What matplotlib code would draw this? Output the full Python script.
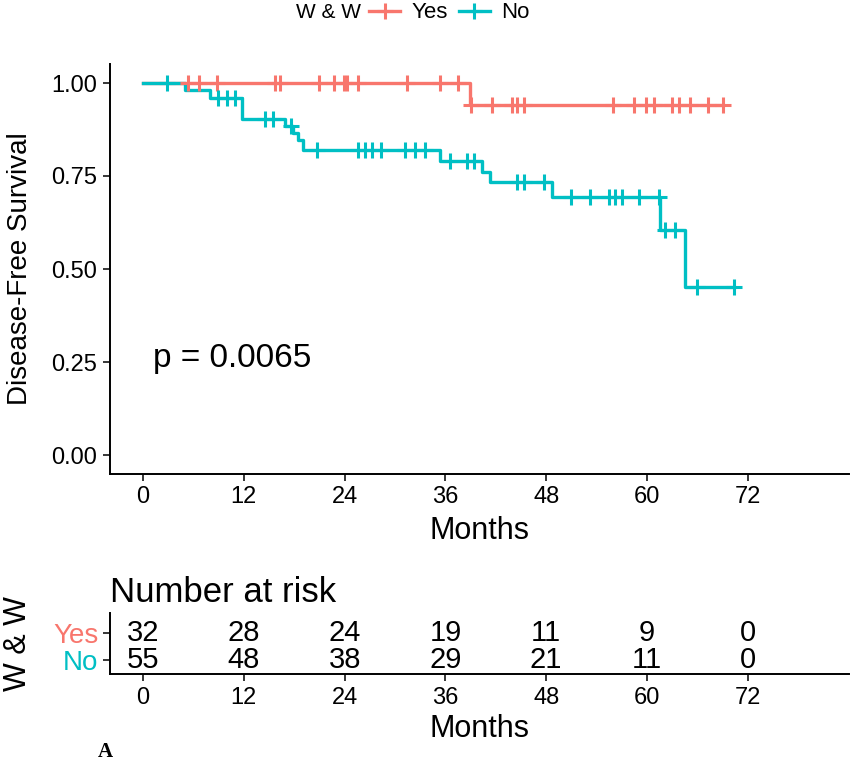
import numpy as np
import matplotlib
matplotlib.use("Agg")
import matplotlib.pyplot as plt
from matplotlib.lines import Line2D

plt.rcParams['font.family'] = ['Liberation Sans', 'DejaVu Sans']

# ---------------- data ----------------
RED = "#F8766D"
TEAL = "#00BFC4"

yes_event_t = [38.9]
yes_event_s = [0.941]
yes_end = 69.1
yes_censor = [5.4, 6.6, 8.8, 15.7, 16.3, 20.9, 22.7, 23.9, 24.3, 25.6, 31.4,
              35.4, 37.5, 39.0, 41.5, 43.9, 44.5, 45.3, 55.9, 58.4, 59.9, 60.8,
              63.0, 63.8, 65.1, 67.3, 69.1]

no_event_t = [5.0, 8.0, 11.75, 16.9, 17.8, 18.4, 19.1, 35.4, 40.3, 41.3, 48.7, 61.5, 64.5]
no_event_s = [0.981, 0.959, 0.902, 0.884, 0.865, 0.846, 0.820, 0.789, 0.762, 0.733,
              0.693, 0.605, 0.451]
no_end = 70.4
no_censor = [2.8, 8.9, 10.0, 10.95, 14.5, 15.5, 17.6, 20.7, 25.6, 26.4, 27.3, 28.3,
             31.2, 32.4, 33.6, 36.5, 38.6, 39.4, 44.5, 45.3, 47.7, 51.0, 53.2, 55.5,
             56.2, 57.0, 59.0, 61.4, 62.1, 63.3, 65.9, 70.4]

risk_times = [0, 12, 24, 36, 48, 60, 72]
risk_yes = [32, 28, 24, 19, 11, 9, 0]
risk_no = [55, 48, 38, 29, 21, 11, 0]
groups = ["Yes", "No"]
pval_text = "p = 0.0065"
x_ticks = [0, 12, 24, 36, 48, 60, 72]
y_ticks = [0.00, 0.25, 0.50, 0.75, 1.00]


def curve(event_t, event_s, end):
    t = [0.0] + list(event_t) + [end]
    s = [1.0] + list(event_s) + [event_s[-1]]
    return np.array(t), np.array(s)


def surv_at(times, t_arr, s_arr):
    idx = np.searchsorted(t_arr[:-1], times, side='right') - 1
    return s_arr[idx]


fig = plt.figure(figsize=(8.52, 7.66), dpi=100)

W, H = 852, 766
ax_left = 109.5 / W
ax_width = 739 / W
ax = fig.add_axes([ax_left, 1 - 473.6 / H, ax_width, 409.2 / H])

LW = 2.4
MS = 12
MEW = 2.2
for (et, es, end, cens, col) in [
        (yes_event_t, yes_event_s, yes_end, yes_censor, RED),
        (no_event_t, no_event_s, no_end, no_censor, TEAL)]:
    t, s = curve(et, es, end)
    ax.step(t, s, where='post', color=col, lw=LW, zorder=3)
    cs = surv_at(np.array(cens), t, s)
    ax.plot(cens, cs, ls='none', marker='+', ms=MS, mew=MEW, color=col, zorder=4)

ax.set_xlim(-4, 84)
ax.set_ylim(-0.05, 1.05)
ax.set_xticks(x_ticks)
ax.set_yticks(y_ticks)
ax.set_yticklabels([f"{v:.2f}" for v in y_ticks])
for sp in ['top', 'right']:
    ax.spines[sp].set_visible(False)
for sp in ['left', 'bottom']:
    ax.spines[sp].set_linewidth(1.4)
ax.tick_params(axis='both', labelsize=17, length=5, width=1.1, colors='black', pad=4)
ax.set_xlabel("Months", fontsize=22, labelpad=6)
ax.set_ylabel("Disease-Free Survival", fontsize=20)
ax.yaxis.set_label_coords(-0.1035, 0.5)
ax.text(1.2, 0.26, pval_text, fontsize=24, ha='left', va='center')

# legend
fig.text(328 / W, 1 - 13 / H, "W & W", fontsize=15, ha='center', va='center')
handles = [Line2D([], [], color=RED, lw=LW, marker='+', ms=MS, mew=MEW),
           Line2D([], [], color=TEAL, lw=LW, marker='+', ms=MS, mew=MEW)]
fig.legend(handles, groups, ncol=2, frameon=False, fontsize=16,
           loc='center left', bbox_to_anchor=(369 / W, 1 - 13 / H),
           handlelength=1.4, handletextpad=0.5, columnspacing=0.5,
           borderpad=0.0, borderaxespad=0.0)

# risk table
rax = fig.add_axes([ax_left, 1 - 674.3 / H, ax_width, 61 / H])
rax.set_xlim(-4, 84)
rax.set_ylim(0.47, 2.73)
for xt, a, b in zip(risk_times, risk_yes, risk_no):
    rax.text(xt, 2, str(a), ha='center', va='center', fontsize=21)
    rax.text(xt, 1, str(b), ha='center', va='center', fontsize=21)
rax.set_xticks(x_ticks)
rax.set_yticks([2, 1])
rax.set_yticklabels(groups)
for lab, col in zip(rax.get_yticklabels(), [RED, TEAL]):
    lab.set_color(col)
for sp in ['top', 'right']:
    rax.spines[sp].set_visible(False)
for sp in ['left', 'bottom']:
    rax.spines[sp].set_linewidth(1.4)
rax.tick_params(axis='both', labelsize=17, length=5, width=1.1, pad=4)
rax.tick_params(axis='y', labelsize=20, pad=3)
rax.set_xlabel("Months", fontsize=22, labelpad=4)
rax.set_ylabel("W & W", fontsize=22)
rax.yaxis.set_label_coords(-0.1035, 0.5)
rax.set_title("Number at risk", fontsize=25, loc='left', pad=8)

fig.text(105 / W, 1 - 752 / H, "A", fontsize=15, fontweight='bold',
         family='Liberation Serif', ha='center', va='center')

fig.savefig("out.png", dpi=100)
